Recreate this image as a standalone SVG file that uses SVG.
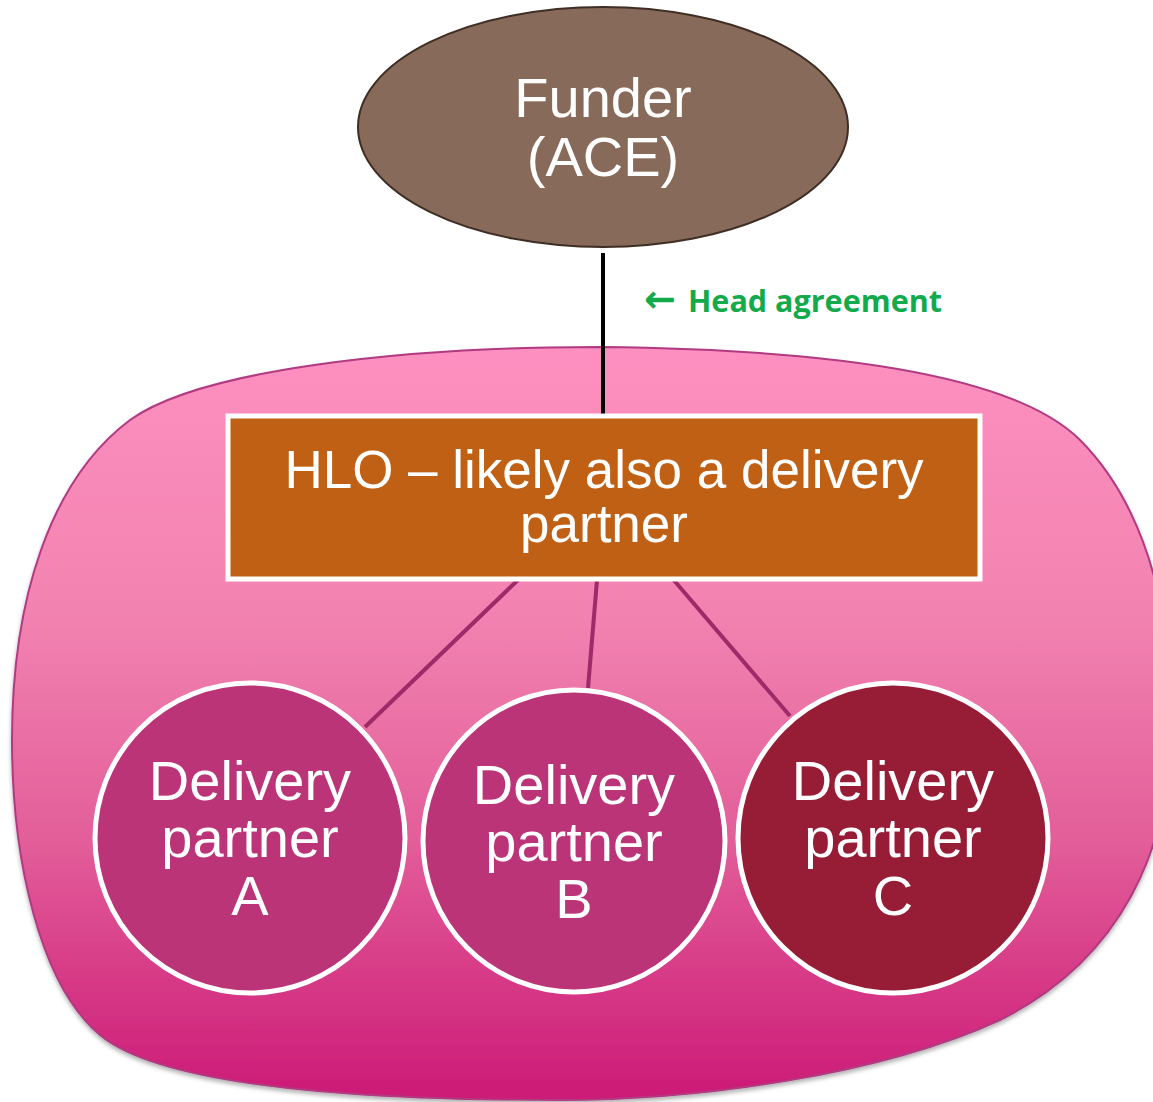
<svg xmlns="http://www.w3.org/2000/svg" width="1153" height="1102" viewBox="0 0 1153 1102">
<defs>
<linearGradient id="bg" x1="0" y1="0" x2="0" y2="1">
<stop offset="0" stop-color="#FD90C0"/>
<stop offset="0.35" stop-color="#F283B1"/>
<stop offset="0.65" stop-color="#E35F9A"/>
<stop offset="1" stop-color="#CC1A76"/>
</linearGradient>
<filter id="sh" x="-5%" y="-5%" width="110%" height="110%">
<feDropShadow dx="0" dy="3" stdDeviation="2" flood-color="#000" flood-opacity="0.3"/>
</filter>
</defs>
<style>
.w{fill:#fff;font-family:"Liberation Sans",Arial,sans-serif;text-anchor:middle}
.conn{stroke:#9E2A68;stroke-width:4;fill:none}
.dp{stroke:#fff;stroke-width:5}
.dt{font-size:56px}
</style>
<g id="group-blob">
<path d="M600,347 C900,350 1030,390 1080,440 C1140,500 1172,600 1172,720 C1172,850 1120,960 1000,1020 C880,1075 700,1100 560,1100 C350,1100 160,1085 100,1035 C40,985 12,860 12,740 C12,600 50,480 130,420 C200,370 400,347 600,347 Z" fill="url(#bg)" stroke="#B03A80" stroke-width="2" filter="url(#sh)"/>
</g>
<g id="connectors">
<line x1="603" y1="253" x2="603" y2="415" stroke="#000" stroke-width="4"/>
<line class="conn" x1="520" y1="578" x2="365" y2="727"/>
<line class="conn" x1="597" y1="580" x2="588" y2="688"/>
<line class="conn" x1="672" y1="578" x2="790" y2="716"/>
</g>
<g id="funder">
<ellipse cx="603" cy="127" rx="245" ry="120" fill="#886A5A" stroke="#3E2E24" stroke-width="2"/>
<text class="w" x="603" y="117" font-size="56">Funder</text>
<text class="w" x="603" y="176" font-size="56">(ACE)</text>
</g>
<g id="head-agreement">
<text y="312" font-family="'Open Sans','Noto Sans',sans-serif" font-weight="bold" fill="#12AA4A"><tspan x="644" font-family="'DejaVu Sans',sans-serif" font-weight="bold" font-size="38">←</tspan><tspan x="688" font-size="31" textLength="254" lengthAdjust="spacingAndGlyphs">Head agreement</tspan></text>
</g>
<g id="hlo">
<rect x="228" y="416" width="752" height="163" fill="#C06015" stroke="#fff" stroke-width="5"/>
<text class="w" x="604" y="488" font-size="53">HLO – likely also a delivery</text>
<text class="w" x="604" y="542" font-size="53">partner</text>
</g>
<g id="dp-a">
<circle class="dp" cx="250" cy="838" r="155" fill="#BA3477"/>
<text class="w dt" x="250" y="800">Delivery</text>
<text class="w dt" x="250" y="857">partner</text>
<text class="w dt" x="250" y="915">A</text>
</g>
<g id="dp-b">
<circle class="dp" cx="574" cy="841" r="151" fill="#BA3477"/>
<text class="w dt" x="574" y="804">Delivery</text>
<text class="w dt" x="574" y="861">partner</text>
<text class="w dt" x="574" y="918">B</text>
</g>
<g id="dp-c">
<circle class="dp" cx="893" cy="838" r="155" fill="#961D35"/>
<text class="w dt" x="893" y="800">Delivery</text>
<text class="w dt" x="893" y="857">partner</text>
<text class="w dt" x="893" y="915">C</text>
</g>
</svg>
